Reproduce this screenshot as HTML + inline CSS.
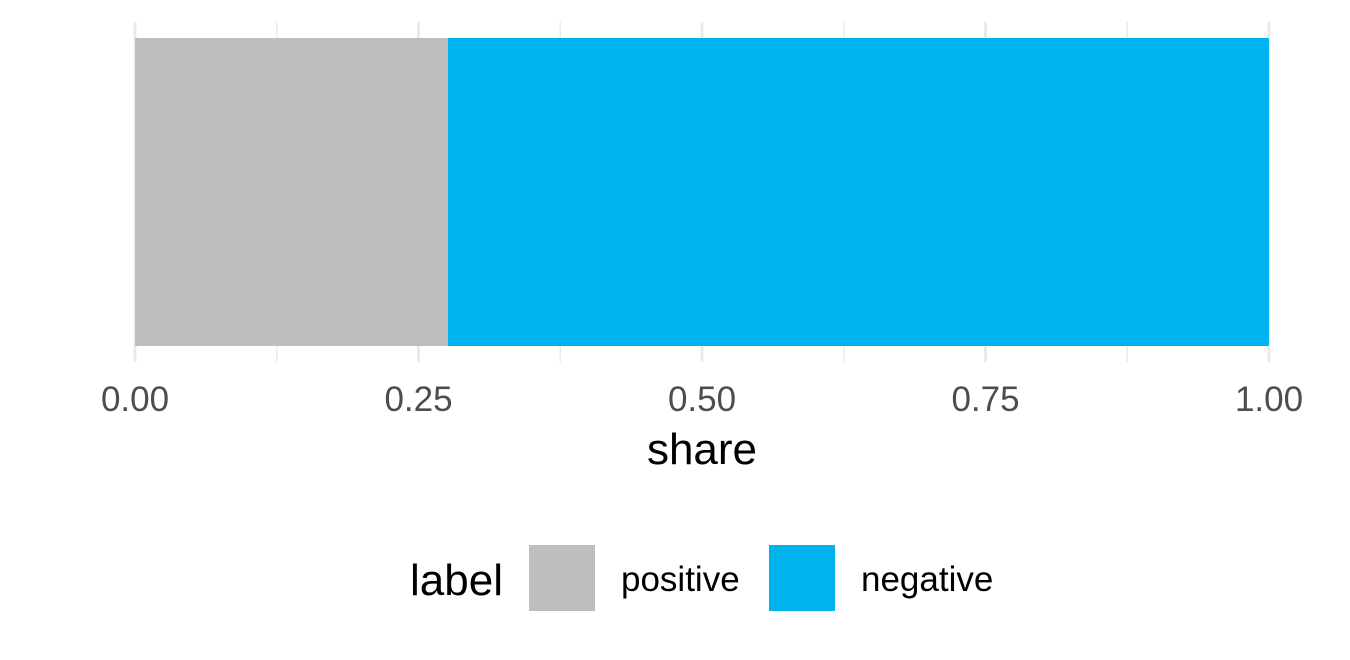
<!DOCTYPE html>
<html><head><meta charset="utf-8"><style>
body{margin:0;background:#fff;}
svg{display:block;font-family:"Liberation Sans",Arial,sans-serif;}
</style></head><body>
<svg width="1350" height="660" id="chart"></svg>
<script>
const categories=["positive","negative"];
const shares=[0.276,0.724];
const colors=["#bebebe","#00b2ee"];
const tickValues=[0,0.25,0.5,0.75,1];
const tickLabels=["0.00","0.25","0.50","0.75","1.00"];
const minorTicks=[0.125,0.375,0.625,0.875];
const NS="http://www.w3.org/2000/svg";
const svg=document.getElementById('chart');
const x0=135,x1=1269;
const xs=v=>x0+(x1-x0)*v;
function mk(t,a,parent){const e=document.createElementNS(NS,t);for(const k in a)e.setAttribute(k,a[k]);(parent||svg).appendChild(e);return e;}
minorTicks.forEach(v=>{const l=mk('line',{x1:xs(v),x2:xs(v),y1:22,y2:362,stroke:'#ebebeb','stroke-width':1.5});

});
tickValues.forEach((v,i)=>{const l=mk('line',{x1:xs(v),x2:xs(v),y1:22,y2:362,stroke:'#ebebeb','stroke-width':3});


const t=mk('text',{x:xs(v),y:411,'text-anchor':'middle','font-size':35,fill:'#4d4d4d'});t.textContent=tickLabels[i];

});
let cum=0;
shares.forEach((s,i)=>{const r=mk('rect',{x:xs(cum),y:38,width:xs(cum+s)-xs(cum),height:308,fill:colors[i]});


cum+=s;});
const xt=mk('text',{x:702,y:464,'text-anchor':'middle','font-size':44,fill:'#000'});xt.textContent='share';


const lt=mk('text',{x:410,y:595,'font-size':44,fill:'#000'});lt.textContent='label';


const legX=[529,769];
categories.forEach((c,i)=>{const g=mk('g',{});


mk('rect',{x:legX[i],y:545,width:66,height:66,fill:colors[i]},g);
const t=mk('text',{x:legX[i]+92,y:591,'font-size':35,fill:'#000'},g);t.textContent=c;});
</script>
</body></html>
